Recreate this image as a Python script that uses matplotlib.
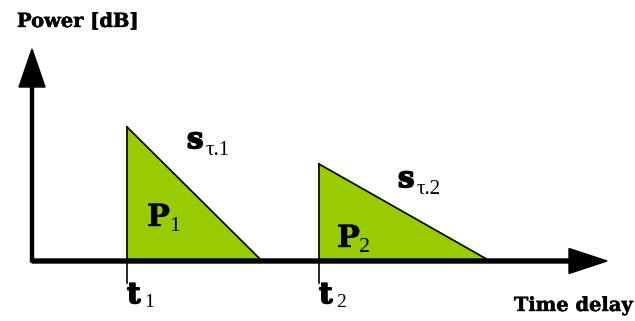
import matplotlib.pyplot as plt
import matplotlib.patheffects as pe

plt.rcParams['font.family'] = 'DejaVu Serif'

# two decaying paths: start delay, peak power, end of decay (arbitrary units)
path_start = [95, 287]
path_peak = [134, 97]
path_end = [230, 458]
path_names = ['1', '2']

fill_color = '#99cc00'

fig = plt.figure(figsize=(6.35, 3.21), dpi=100)
ax = fig.add_axes([0, 0, 1, 1])
ax.set_xlim(-32, 603)
ax.set_ylim(-60, 261)
ax.axis('off')

# triangles
for t0, p, t1 in zip(path_start, path_peak, path_end):
    ax.fill([t0, t0, t1], [0, p, 0], color=fill_color, zorder=1)
    ax.plot([t0, t1], [p, 0], color='black', lw=1.2, zorder=2)
    ax.plot([t0, t0], [-22, p], color='black', lw=1.2, zorder=2)

# axes arrows
ax.arrow(0, 0, 575, 0, width=4, head_width=25, head_length=38,
         length_includes_head=True, color='black', zorder=3)
ax.arrow(0, -1, 0, 213, width=3, head_width=26, head_length=38,
         length_includes_head=True, color='black', zorder=3)

bold = dict(family='DejaVu Serif', fontweight='bold', va='baseline', ha='left')
sub = dict(family='Liberation Serif', va='baseline', ha='left')
heavy = [pe.withStroke(linewidth=1.2, foreground='black')]
thick = [pe.withStroke(linewidth=0.3, foreground='black')]

# axis labels
ax.text(-15, 234, 'Power [dB]', fontsize=14, path_effects=thick, **bold)
ax.text(601, -50, 'Time delay', fontsize=14, fontweight='bold', path_effects=thick,
        family='DejaVu Serif', va='baseline', ha='right')

# power and delay-spread labels
p_xy = [(115, 35), (305, 14)]
s_xy = [(155, 113), (366, 74)]
for (px, py), (sx, sy), name in zip(p_xy, s_xy, path_names):
    ax.text(px, py, 'P', fontsize=22, path_effects=thick, **bold)
    ax.text(px + 22, py - 5, name, fontsize=16, **sub)
    ax.text(sx, sy, 's', fontsize=21, path_effects=heavy, **bold)
    ax.text(sx + 19, sy - 7, 'τ.' + name, fontsize=15, **sub)

for t0, name in zip(path_start, path_names):
    ax.text(t0, -42, 't', fontsize=21, path_effects=heavy, **bold)
    ax.text(t0 + 17, -46, name, fontsize=14, **sub)

fig.savefig('out.png', dpi=100)
